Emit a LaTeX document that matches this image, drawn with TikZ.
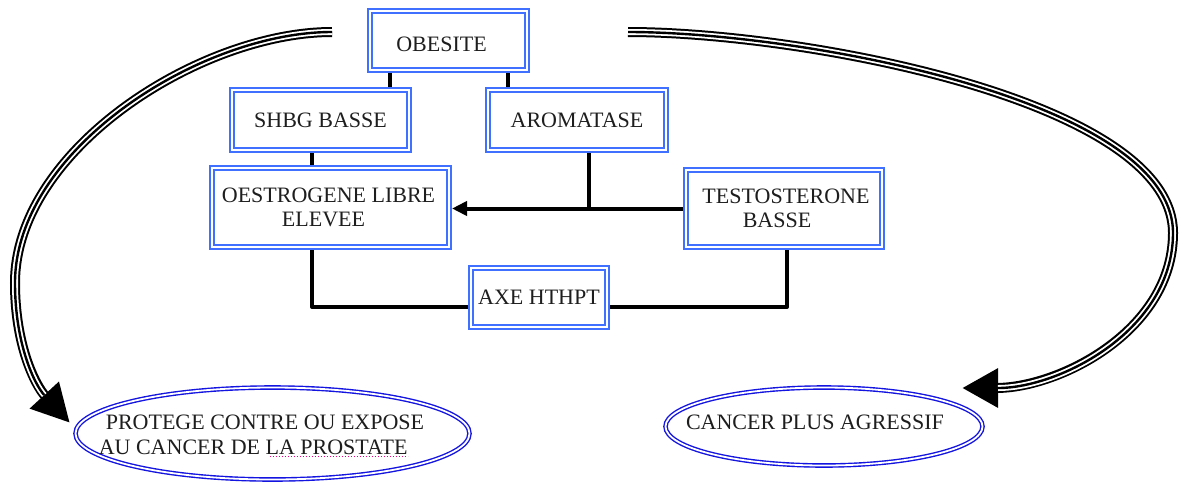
\documentclass[tikz,border=0pt]{standalone}
\usepackage{fontspec}
\setmainfont{Liberation Serif}
\usetikzlibrary{arrows.meta,shapes.geometric}
\definecolor{boxblue}{RGB}{64,112,255}
\definecolor{ovalblue}{RGB}{20,20,225}
\definecolor{inkgray}{RGB}{30,30,30}

\begin{document}
\begin{tikzpicture}[x=1pt,y=-1pt,
  font=\fontsize{22}{24}\selectfont,
  box/.style={rectangle, draw=boxblue, double=white, line width=2.2pt,
    double distance=1.6pt, fill=white, inner sep=0pt, outer sep=3pt,
    text=inkgray, align=center},
  oval/.style={ellipse, draw=ovalblue, double=white, line width=1.4pt,
    double distance=1.8pt, inner sep=0pt, outer sep=2.3pt},
  lbl/.style={text=inkgray, inner sep=0pt, font=\fontsize{22}{25}\selectfont},
  conn/.style={draw=black, line width=4pt, line join=round},
  triple/.style={draw=black, line width=10pt,
    postaction={draw=white, line width=6pt, -, shorten >=#1},
    postaction={draw=black, line width=2.4pt, -, shorten >=#1}}
]
\useasboundingbox[fill=white] (0,0) rectangle (1183,488);

% boxes of the causal chain
\node[box, minimum width=157pt, minimum height=59pt] (obe) at (448.5,40.5)
  {\rule{0pt}{22pt}OBESITE\makebox[14pt]{}};
\node[box, minimum width=177pt, minimum height=60pt] (shbg) at (320.5,120) {SHBG BASSE};
\node[box, minimum width=178pt, minimum height=60pt] (aro) at (577,120) {AROMATASE};
\node[box, minimum width=237pt, minimum height=79pt] (oes) at (330.5,207.5)
  {OESTROGENE LIBRE\makebox[4pt]{}\\ELEVEE\makebox[14pt]{}};
\node[box, minimum width=196pt, minimum height=77pt] (test) at (784,208.5)
  {\makebox[4pt]{}TESTOSTERONE\\BASSE\makebox[14pt]{}};
\node[box, minimum width=136pt, minimum height=59pt] (axe) at (539,297.5) {AXE HTHPT};

% outcomes
\node[oval, minimum width=394pt, minimum height=92pt,
  label={[lbl, xshift=-11pt, yshift=-3.3pt]center:{\begin{tabular}{@{}l@{}}\hspace*{7pt}PROTEGE CONTRE OU EXPOSE\\AU CANCER DE LA PROSTATE\end{tabular}}}]
  (prot) at (272.5,433.5) {};
\node[oval, minimum width=317pt, minimum height=78pt,
  label={[lbl, xshift=-9pt, yshift=4.5pt]center:{CANCER PLUS AGRESSIF}}]
  (agr) at (824,426.5) {};

% spelling mark under the last words
\draw[magenta, line width=0.8pt, dash pattern=on 0.8pt off 2.2pt] (270,456) -- (408,456);

% connectors
\draw[conn] ([xshift=-58.5pt]obe.south) -- ([xshift=-58.5pt]obe.south |- shbg.north);
\draw[conn] ([xshift=59.5pt]obe.south) -- ([xshift=59.5pt]obe.south |- aro.north);
\draw[conn] ([xshift=-8.5pt]shbg.south) -- ([xshift=-8.5pt]shbg.south |- oes.north);
\draw[conn] ([xshift=12pt]aro.south) -- ([xshift=12pt]aro.south |- test.west);
\draw[conn, -{Triangle[length=15pt,width=14pt]}] (test.west) -- (test.west -| oes.east);
\draw[conn] ([xshift=-18.5pt]oes.south) |- ([yshift=-9.5pt]axe.west);
\draw[conn] ([xshift=3pt]test.south) |- ([yshift=-9.5pt]axe.east);

% large triple-line arrows towards the outcomes
\coordinate (ls) at (332,32);
\coordinate (le) at (70,423);
\coordinate (rs) at (628,32);
\coordinate (re) at (962,388);
\draw[triple=38pt, -{Triangle[length=38pt,width=37pt]}]
  (ls) .. controls (200,32) and (15,150) .. (15,283)
       .. controls (15,345) and (35,385) .. (le);
\draw[triple=36pt, -{Triangle[length=36pt,width=37pt]}]
  (rs) .. controls (800,32) and (1173,100) .. (1173,233)
       .. controls (1173,330) and (1060,388) .. (re);
\end{tikzpicture}
\end{document}
